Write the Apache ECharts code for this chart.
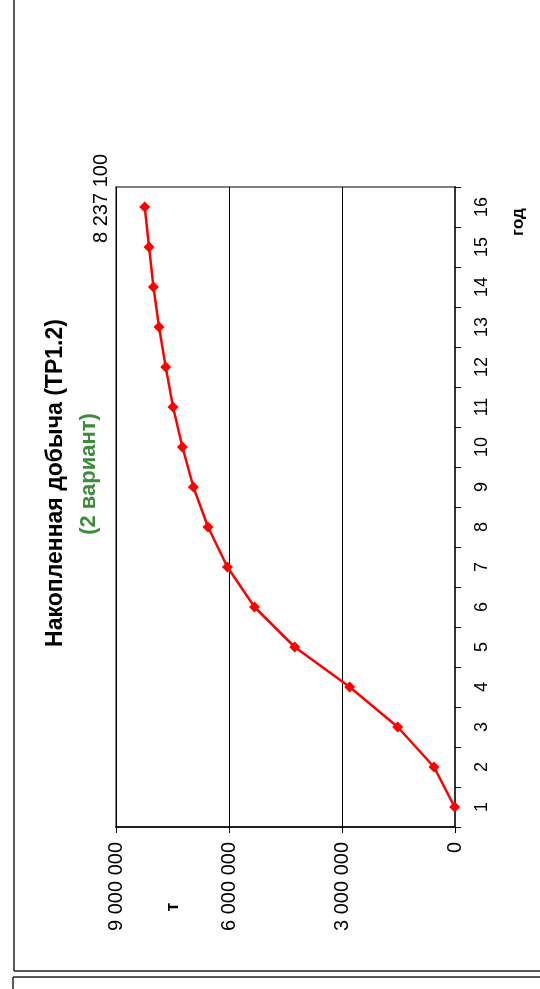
<!DOCTYPE html>
<html>
<head>
<meta charset="utf-8">
<script src="https://cdn.jsdelivr.net/npm/echarts@6/dist/echarts.min.js"></script>
<style>
html,body{margin:0;padding:0;background:#fff;}
#chart{width:540px;height:989px;}
</style>
</head>
<body>
<div id="chart"></div>
<script>
// Data
const years = ['1','2','3','4','5','6','7','8','9','10','11','12','13','14','15','16'];
const cumulativeProduction = [10000, 557000, 1521000, 2795000, 4255000, 5323000, 6042000, 6557000, 6945000, 7237000, 7486000, 7680000, 7858000, 8006000, 8123000, 8237100];
const valueTicks = [0, 3000000, 6000000, 9000000];
const titleText = 'Накопленная добыча (ТР1.2)';
const subtitleText = '(2 вариант)';
const valueAxisName = 'т';
const categoryAxisName = 'год';

const FONT = '"Liberation Sans", Arial, sans-serif';
function fmt(v) { return String(Math.round(v)).replace(/\B(?=(\d{3})+(?!\d))/g, ' '); }

const chart = echarts.init(document.getElementById('chart'), null, {renderer: 'canvas'});
const option = {
  backgroundColor: '#ffffff',
  animation: false,
  grid: {
    left: 116, top: 187, width: 339, height: 640,
    show: true, borderColor: '#808080', borderWidth: 2, backgroundColor: 'transparent'
  },
  xAxis: {
    type: 'value',
    inverse: true,
    position: 'bottom',
    min: valueTicks[0],
    max: valueTicks[valueTicks.length - 1],
    interval: valueTicks[1] - valueTicks[0],
    axisLine: {show: true, lineStyle: {color: '#000', width: 1.5}},
    axisTick: {show: true, length: 6, lineStyle: {color: '#000', width: 1}},
    splitLine: {show: true, lineStyle: {color: '#000', width: 1}},
    axisLabel: {
      rotate: 90, margin: 15, color: '#000', fontSize: 20, fontFamily: FONT,
      formatter: fmt
    }
  },
  yAxis: {
    type: 'category',
    position: 'right',
    data: years,
    boundaryGap: true,
    axisLine: {show: true, onZero: false, lineStyle: {color: '#333', width: 2}},
    axisTick: {show: true, length: 6, alignWithLabel: false, lineStyle: {color: '#000', width: 1}},
    splitLine: {show: false},
    axisLabel: {rotate: 90, margin: 18, color: '#000', fontSize: 18, fontFamily: FONT}
  },
  series: [{
    type: 'line',
    data: cumulativeProduction,
    symbol: 'diamond',
    symbolSize: 11,
    itemStyle: {color: '#ff0000'},
    lineStyle: {color: '#ff0000', width: 2.5}
  }],
  graphic: [
    {type: 'line', shape: {x1: 14, y1: 0, x2: 14, y2: 971}, style: {stroke: '#222', lineWidth: 1.5}},
    {type: 'line', shape: {x1: 14, y1: 971, x2: 540, y2: 971}, style: {stroke: '#222', lineWidth: 1.5}},
    {type: 'line', shape: {x1: 13, y1: 977, x2: 540, y2: 977}, style: {stroke: '#222', lineWidth: 1.5}},
    {type: 'line', shape: {x1: 13, y1: 977, x2: 13, y2: 989}, style: {stroke: '#222', lineWidth: 1.5}},
    {type: 'text', x: 56, y: 483, rotation: Math.PI / 2,
      style: {text: titleText, fill: '#000', fontSize: 23, fontWeight: 'bold', fontFamily: FONT, align: 'center', verticalAlign: 'middle'}},
    {type: 'text', x: 89, y: 474, rotation: Math.PI / 2,
      style: {text: subtitleText, fill: '#3c8c3c', fontSize: 22, fontWeight: 'bold', fontFamily: FONT, align: 'center', verticalAlign: 'middle'}},
    {type: 'text', x: 101, y: 154, rotation: Math.PI / 2,
      style: {text: fmt(cumulativeProduction[cumulativeProduction.length - 1]), fill: '#000', fontSize: 20, fontFamily: FONT, align: 'right', verticalAlign: 'middle'}},
    {type: 'text', x: 173, y: 907, rotation: Math.PI / 2,
      style: {text: valueAxisName, fill: '#000', fontSize: 18, fontWeight: 'bold', fontFamily: FONT, align: 'center', verticalAlign: 'middle'}},
    {type: 'text', x: 518, y: 222, rotation: Math.PI / 2,
      style: {text: categoryAxisName, fill: '#000', fontSize: 17, fontWeight: 'bold', fontFamily: FONT, align: 'center', verticalAlign: 'middle'}}
  ]
};
chart.setOption(option);
</script>
</body>
</html>
